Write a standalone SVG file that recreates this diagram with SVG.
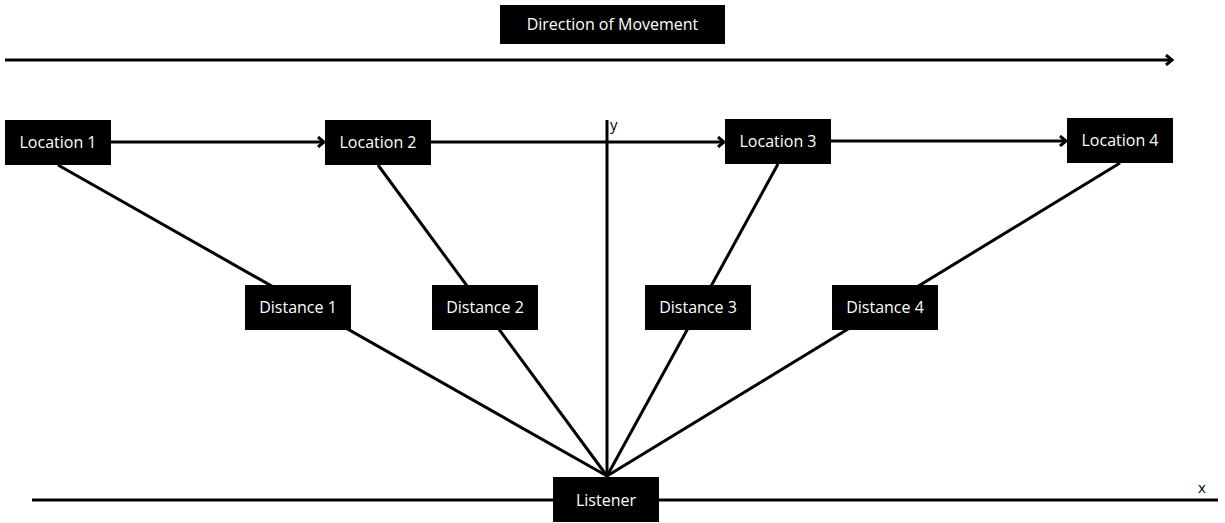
<svg xmlns="http://www.w3.org/2000/svg" width="1225" height="523" viewBox="0 0 1225 523">
<style>
.box{fill:#000}
.lbl{fill:#fff;font-family:"Open Sans",sans-serif;font-size:16px;text-anchor:middle;dominant-baseline:central}
.ln{stroke:#000;stroke-width:3;fill:none}
.ax{fill:#000;font-family:"Open Sans",sans-serif;font-size:15px}
</style>
<defs>
<marker id="arr" markerWidth="12" markerHeight="12" refX="9" refY="6" orient="auto" markerUnits="userSpaceOnUse">
<polyline points="3,1 9,6 3,11" fill="none" stroke="#000" stroke-width="3"/>
</marker>
</defs>
<g id="connectors">
<line class="ln" x1="5" y1="60" x2="1172" y2="60" marker-end="url(#arr)"/>
<line class="ln" x1="111" y1="142" x2="324" y2="142" marker-end="url(#arr)"/>
<line class="ln" x1="431" y1="142" x2="724" y2="142" marker-end="url(#arr)"/>
<line class="ln" x1="831" y1="141" x2="1066" y2="141" marker-end="url(#arr)"/>
<line class="ln" x1="607" y1="120" x2="607" y2="477"/>
<line class="ln" x1="32" y1="500" x2="1218" y2="500"/>
<line class="ln" x1="58" y1="165" x2="607" y2="476"/>
<line class="ln" x1="378" y1="165" x2="607" y2="476"/>
<line class="ln" x1="778" y1="164" x2="607" y2="476"/>
<line class="ln" x1="1120" y1="163" x2="607" y2="476"/>
</g>
<text class="ax" x="610" y="130">y</text>
<text class="ax" x="1198" y="493">x</text>
<g id="direction"><rect class="box" x="500" y="5" width="225" height="39"/><text class="lbl" x="612.5" y="24">Direction of Movement</text></g>
<g id="location1"><rect class="box" x="5" y="120" width="106" height="45"/><text class="lbl" x="58" y="142">Location 1</text></g>
<g id="location2"><rect class="box" x="325" y="120" width="106" height="45"/><text class="lbl" x="378" y="142">Location 2</text></g>
<g id="location3"><rect class="box" x="725" y="119" width="106" height="45"/><text class="lbl" x="778" y="141">Location 3</text></g>
<g id="location4"><rect class="box" x="1067" y="118" width="106" height="45"/><text class="lbl" x="1120" y="140">Location 4</text></g>
<g id="distance1"><rect class="box" x="245" y="285" width="106" height="45"/><text class="lbl" x="298" y="307">Distance 1</text></g>
<g id="distance2"><rect class="box" x="432" y="285" width="106" height="45"/><text class="lbl" x="485" y="307">Distance 2</text></g>
<g id="distance3"><rect class="box" x="645" y="285" width="106" height="45"/><text class="lbl" x="698" y="307">Distance 3</text></g>
<g id="distance4"><rect class="box" x="832" y="285" width="106" height="45"/><text class="lbl" x="885" y="307">Distance 4</text></g>
<g id="listener"><rect class="box" x="553" y="477" width="106" height="45"/><text class="lbl" x="606" y="500">Listener</text></g>
</svg>
